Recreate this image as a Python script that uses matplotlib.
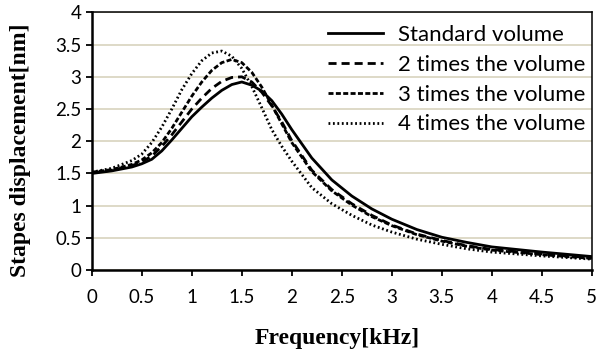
import matplotlib
matplotlib.use("Agg")
import matplotlib.pyplot as plt

freq = [0, 0.2, 0.4, 0.5, 0.6, 0.7, 0.8, 0.9, 1.0, 1.1, 1.2, 1.3, 1.4, 1.5, 1.6,
        1.7, 1.8, 1.9, 2.0, 2.2, 2.4, 2.6, 2.8, 3.0, 3.25, 3.5, 3.75, 4.0, 4.5, 5.0]

standard = [1.50, 1.54, 1.60, 1.65, 1.72, 1.85, 2.02, 2.20, 2.38, 2.53, 2.67, 2.79, 2.88, 2.92, 2.87,
            2.78, 2.63, 2.42, 2.18, 1.74, 1.40, 1.15, 0.95, 0.79, 0.63, 0.51, 0.43, 0.36, 0.28, 0.21]
times2 = [1.51, 1.55, 1.62, 1.68, 1.77, 1.92, 2.10, 2.30, 2.50, 2.67, 2.82, 2.93, 2.99, 3.00, 2.92,
          2.76, 2.55, 2.30, 2.01, 1.55, 1.25, 1.03, 0.85, 0.70, 0.56, 0.46, 0.38, 0.32, 0.25, 0.19]
times3 = [1.52, 1.56, 1.64, 1.71, 1.82, 1.98, 2.20, 2.45, 2.70, 2.92, 3.10, 3.22, 3.27, 3.22, 3.07,
          2.84, 2.56, 2.27, 1.98, 1.53, 1.23, 1.01, 0.83, 0.69, 0.55, 0.45, 0.37, 0.31, 0.24, 0.18]
times4 = [1.52, 1.58, 1.70, 1.80, 1.98, 2.22, 2.50, 2.80, 3.05, 3.25, 3.37, 3.40, 3.32, 3.13, 2.85,
          2.52, 2.18, 1.92, 1.69, 1.28, 1.03, 0.85, 0.70, 0.59, 0.48, 0.40, 0.33, 0.28, 0.22, 0.17]

series = [
	("Standard volume", standard, "-"),
	("2 times the volume", times2, (0, (2.9, 1.8))),
	("3 times the volume", times3, (0, (1.8, 0.85))),
	("4 times the volume", times4, (0, (0.65, 0.95))),
]

plt.rcParams["font.family"] = ["Lato", "DejaVu Sans"]

fig = plt.figure(figsize=(5.96, 3.54), dpi=100)
ax = fig.add_axes([0.154, 0.237, 0.839, 0.728])

for label, vals, ls in series:
	ax.plot(freq, vals, color="black", linestyle=ls, linewidth=2.0, label=label)

ax.set_xlim(0, 5)
ax.set_ylim(0, 4)
ax.set_xticks([0, 0.5, 1, 1.5, 2, 2.5, 3, 3.5, 4, 4.5, 5])
ax.set_xticklabels(["0", "0.5", "1", "1.5", "2", "2.5", "3", "3.5", "4", "4.5", "5"])
ax.set_yticks([0, 0.5, 1, 1.5, 2, 2.5, 3, 3.5, 4])
ax.set_yticklabels(["0", "0.5", "1", "1.5", "2", "2.5", "3", "3.5", "4"])
ax.grid(axis="y", color="#d8d3bd", linewidth=1.2)
ax.set_axisbelow(True)
ax.tick_params(axis="both", labelsize=13.5, direction="out", length=4.5, width=1.3)
ax.tick_params(axis="x", pad=9)
ax.tick_params(axis="y", pad=3)
for side in ["left", "bottom"]:
	ax.spines[side].set_linewidth(1.8)
for side in ["top", "right"]:
	ax.spines[side].set_linewidth(1.1)

ax.set_xlabel("Frequency[kHz]", fontsize=17, fontweight="bold",
              family="Liberation Serif", va="center")
ax.xaxis.set_label_coords(0.4916, -0.264)
ax.set_ylabel("Stapes displacement[nm]", fontsize=17, fontweight="bold",
              family="Liberation Serif", va="center")
ax.yaxis.set_label_coords(-0.143, 0.466)

ax.legend(loc="upper right", frameon=False, fontsize=16, handlelength=2.48,
          handletextpad=0.68, labelspacing=0.44, borderpad=0.1, borderaxespad=0.2,
          bbox_to_anchor=(1.0, 0.977))

fig.savefig("out.png", dpi=100)
